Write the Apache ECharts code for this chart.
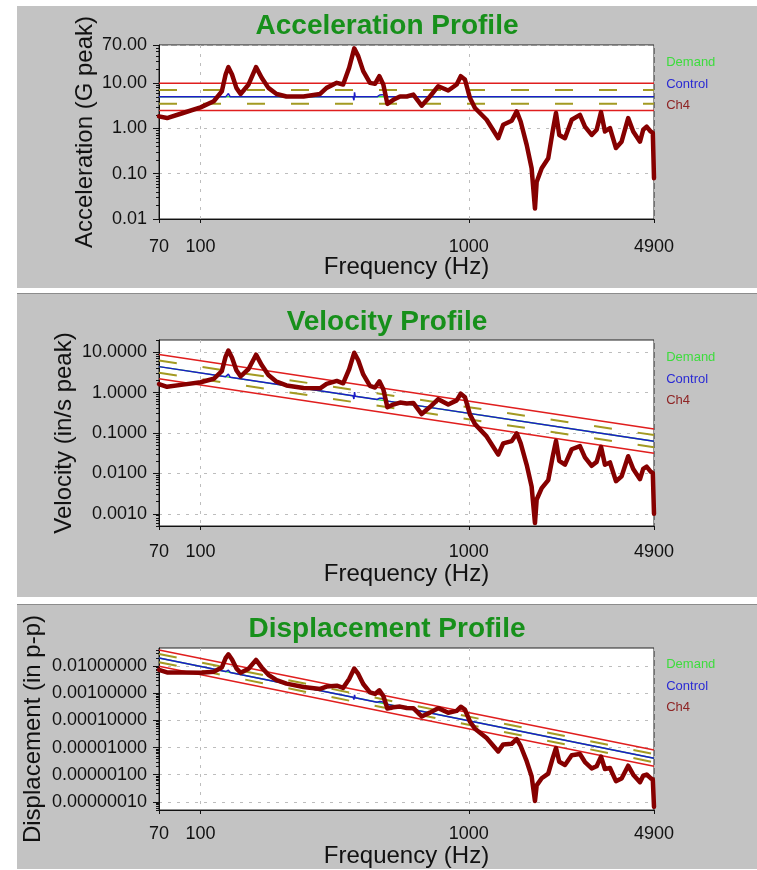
<!DOCTYPE html>
<html><head><meta charset="utf-8">
<script src="https://cdn.jsdelivr.net/npm/echarts@6/dist/echarts.min.js"></script>
<style>
html,body{margin:0;padding:0;background:#fff;width:757px;height:870px;overflow:hidden;}
.panel{position:absolute;left:17px;width:740px;background:#c3c3c3;}
</style></head><body>
<div id="p1" class="panel" style="top:6px;height:282px;"></div>
<div id="p2" class="panel" style="top:293px;height:303px;border-top:1px solid #8c8c8c;"></div>
<div id="p3" class="panel" style="top:604px;height:264px;border-top:1px solid #8c8c8c;"></div>
<script>
// ---------- data ----------
const CH4_FREQ = [70,75,86,100,112,120,124,127,131,136,141,151,161,169,179,192,209,242,279,295,322,340,358,374,387,404,428,447,464,480,497,523,554,587,621,667,716,769,838,901,933,967,1010,1054,1165,1287,1343,1445,1508,1560,1643,1714,1764,1790,1869,1977,2053,2113,2173,2282,2418,2595,2709,2870,2995,3110,3216,3358,3535,3710,3926,4100,4345,4466,4600,4760,4850,4900];
const CH4_ACCEL = [1.85,1.7,2.2,2.93,4.0,6.6,15.6,22.7,15.6,7.9,5.8,9.4,22.7,13.2,7.9,5.8,5.1,5.1,5.8,7.9,10.2,9.4,22,59,39.8,18.5,10.2,9.7,14.3,9.4,3.5,4.3,5.1,5.1,5.6,3.2,5.1,8.6,6.9,9.4,14.3,12.1,4.7,2.84,1.56,0.61,1.21,1.48,2.39,1.43,0.435,0.132,0.017,0.066,0.132,0.22,0.86,2.2,0.72,0.61,1.56,2.0,1.1,0.72,0.94,2.3,0.86,1.02,0.37,0.51,1.7,0.86,0.51,0.94,1.1,0.86,0.8,0.08];
const CH4_VEL = [1.624,1.393,1.572,1.800,2.195,3.380,7.731,10.98,7.318,3.570,2.528,3.825,8.664,4.800,2.712,1.856,1.4995,1.295,1.2774,1.6457,1.9466,1.699,3.776,9.694,6.320,2.814,1.4645,1.3335,1.8938,1.2033,0.4328,0.5052,0.5657,0.5339,0.5541,0.2948,0.4377,0.6872,0.5060,0.6411,0.9418,0.7689,0.2859,0.1656,0.08228,0.02912,0.05536,0.06294,0.09741,0.05633,0.01627,0.004732,0.0005922,0.002266,0.00434,0.006839,0.02574,0.06398,0.02036,0.01643,0.03964,0.04736,0.02495,0.01541,0.01929,0.04544,0.01643,0.01867,0.006432,0.008447,0.02661,0.01289,0.007213,0.01293,0.0147,0.0111,0.01014,0.001003];
const CH4_DISP = [0.007385,0.005912,0.005819,0.00573,0.006238,0.008965,0.019845,0.02752,0.01778,0.008355,0.005706,0.008063,0.01713,0.00904,0.004823,0.003077,0.002284,0.001703,0.001457,0.001776,0.001924,0.001591,0.003357,0.00825,0.005198,0.002217,0.001089,0.0009496,0.001299,0.000798,0.0002772,0.0003075,0.000325,0.0002895,0.000284,0.0001407,0.0001946,0.0002844,0.0001922,0.0002265,0.0003213,0.0002531,0.0000901,0.00005001,0.00002248,0.000007202,0.00001312,0.00001386,0.00002056,0.00001149,0.000003152,8.788e-7,1.0686e-7,4.03e-7,7.391e-7,1.101e-6,3.991e-6,9.638e-6,2.982e-6,2.292e-6,5.218e-6,5.809e-6,2.932e-6,1.709e-6,2.05e-6,4.651e-6,1.626e-6,1.7695e-6,5.792e-7,7.247e-7,2.157e-6,1.0007e-6,5.284e-7,9.216e-7,1.017e-6,7.423e-7,6.654e-7,6.52e-8];

const CTRL_FREQ = [70,124,127,129,370,373,375,377,455,465,475,490,500,4900];
const CTRL_ACCEL = [5,5,5.9,5,5,4.2,6.3,5,5,5.5,5.6,5.3,5,5];
const CTRL_VEL = [4.389,2.478,2.855,2.382,0.8304,0.692,1.032,0.815,0.6753,0.7268,0.7245,0.6647,0.6145,0.0627];
const CTRL_DISP = [0.01996,0.006361,0.007155,0.005877,0.0007144,0.0005905,0.0008763,0.0006881,0.0004724,0.0004975,0.0004855,0.0004318,0.0003912,4.073e-6];

const LIMIT_FREQ = [70,4900];
const ACCEL_DEMAND = [5,5], ACCEL_ABORT_HI = [10,10], ACCEL_ABORT_LO = [2.5,2.5], ACCEL_ALARM_HI = [7.07,7.07], ACCEL_ALARM_LO = [3.54,3.54];
const VEL_DEMAND = [4.389,0.0627], VEL_ABORT_HI = [8.78,0.1254], VEL_ABORT_LO = [2.195,0.03135], VEL_ALARM_HI = [6.21,0.0887], VEL_ALARM_LO = [3.10,0.0443];
const DISP_DEMAND = [0.01996,4.073e-6], DISP_ABORT_HI = [0.03992,8.146e-6], DISP_ABORT_LO = [0.00998,2.036e-6], DISP_ALARM_HI = [0.02823,5.76e-6], DISP_ALARM_LO = [0.01411,2.88e-6];

const X_TICKS = [70,100,1000,4900];
const ACCEL_TICKS = [0.01,0.1,1,10,70];
const VEL_TICKS = [0.001,0.01,0.1,1,10];
const DISP_TICKS = [1e-7,1e-6,1e-5,1e-4,1e-3,1e-2];

// ---------- helpers ----------
const FONT = '"Liberation Sans", Arial, sans-serif';
function minorTicks(e0, e1){const o=[];for(let e=e0;e<e1;e++){for(let m=1;m<10;m++){o.push(+(m*Math.pow(10,e)).toPrecision(3));}}return o;}
const zip=(xs,ys)=>xs.map((x,i)=>[x,ys[i]]);

function build(p){
  const line=(name,ys,xs,style,z,color)=>({type:'line',name,data:zip(xs,ys),symbol:'none',showSymbol:false,silent:true,z:z,color:color||style.color,lineStyle:style});
  const red={color:'#e01e1e',width:1.5};
  const alarm={color:'#a39a22',width:2,type:[18,26]};
  const grid={color:'#bdbdbd',type:[3,6],width:1};
  return {
    animation:false,
    title:{text:p.title,left:'center',top:p.titleTop,padding:0,textStyle:{fontFamily:FONT,fontWeight:'bold',fontSize:28,color:'#17901b'}},
    legend:{data:[{name:'Demand',textStyle:{color:'#3ddc3d'}},{name:'Control',textStyle:{color:'#2a2ad4'}},{name:'Ch4',textStyle:{color:'#8e2424'}}],
      orient:'vertical',left:639,top:p.legendTop,itemWidth:0,itemHeight:13,itemGap:8.5,padding:0,selectedMode:false,
      itemStyle:{opacity:0},lineStyle:{opacity:0},textStyle:{fontFamily:FONT,fontSize:13}},
    grid:{left:142,top:p.gridTop,width:495,height:p.gridHeight,show:true,backgroundColor:'#fff',borderColor:'#222',borderWidth:1,containLabel:false,outerBoundsMode:'none'},
    xAxis:[{type:'log',logBase:10,min:70,max:4900,name:'Frequency (Hz)',nameLocation:'middle',nameGap:p.xNameGap,nameMoveOverlap:false,
      nameTextStyle:{fontFamily:FONT,fontSize:24,color:'#111'},
      axisLine:{show:true,lineStyle:{color:'#111',width:1}},
      axisTick:{show:true,customValues:X_TICKS,length:4,lineStyle:{color:'#111'}},
      axisLabel:{customValues:X_TICKS,formatter:v=>String(Math.round(v)),fontFamily:FONT,fontSize:18,color:'#111',margin:p.xLabelMargin,hideOverlap:false},
      splitLine:{show:true,lineStyle:grid}}],
    yAxis:[{type:'log',logBase:10,min:p.ymin,max:p.ymax,name:p.yName,nameLocation:'middle',nameGap:p.yNameGap,nameMoveOverlap:false,
      nameTextStyle:{fontFamily:FONT,fontSize:24,color:'#111'},
      axisLine:{show:true,lineStyle:{color:'#111',width:1}},
      axisTick:{show:true,customValues:p.ticks,length:6,lineStyle:{color:'#111'}},
      axisLabel:{customValues:p.ticks,formatter:v=>v.toFixed(p.dec),fontFamily:FONT,fontSize:18,color:'#111',margin:12,hideOverlap:false},
      splitLine:{show:true,lineStyle:grid}},
     {type:'log',logBase:10,min:p.ymin,max:p.ymax,position:'left',offset:0,
      axisLine:{show:false},axisTick:{show:true,customValues:p.minor,length:3,lineStyle:{color:'#111'}},
      axisLabel:{show:false},splitLine:{show:false}}],
    series:[
      line('abortHi',p.abortHi,LIMIT_FREQ,red,2),
      line('abortLo',p.abortLo,LIMIT_FREQ,red,2),
      line('alarmHi',p.alarmHi,LIMIT_FREQ,alarm,2),
      line('alarmLo',p.alarmLo,LIMIT_FREQ,alarm,2),
      line('Demand',p.demand,LIMIT_FREQ,{color:'#3ddc3d',width:1.5},3),
      line('Control',p.ctrl,CTRL_FREQ,{color:'#1c1cc8',width:1.5},4,'#2a2ad4'),
      line('Ch4',p.ch4,CH4_FREQ,{color:'#860000',width:4.5,join:'round',cap:'round'},5,'#8e2424')
    ]
  };
}

const panels=[
  {id:'p1',title:'Acceleration Profile',titleTop:6,legendTop:50,gridTop:39,gridHeight:174,xNameGap:36,xLabelMargin:19,
   ymin:0.01,ymax:70,yName:'Acceleration (G peak)',yNameGap:62,ticks:ACCEL_TICKS,minor:minorTicks(-2,2),dec:2,
   abortHi:ACCEL_ABORT_HI,abortLo:ACCEL_ABORT_LO,alarmHi:ACCEL_ALARM_HI,alarmLo:ACCEL_ALARM_LO,demand:ACCEL_DEMAND,ctrl:CTRL_ACCEL,ch4:CH4_ACCEL},
  {id:'p2',title:'Velocity Profile',titleTop:14,legendTop:57,gridTop:46,gridHeight:186,xNameGap:36,xLabelMargin:17,
   ymin:0.0005,ymax:20,yName:'Velocity (in/s peak)',yNameGap:83,ticks:VEL_TICKS,minor:minorTicks(-4,2),dec:4,
   abortHi:VEL_ABORT_HI,abortLo:VEL_ABORT_LO,alarmHi:VEL_ALARM_HI,alarmLo:VEL_ALARM_LO,demand:VEL_DEMAND,ctrl:CTRL_VEL,ch4:CH4_VEL},
  {id:'p3',title:'Displacement Profile',titleTop:10,legendTop:53,gridTop:43,gridHeight:162,xNameGap:34,xLabelMargin:15,
   ymin:5e-8,ymax:0.047,yName:'Displacement (in p-p)',yNameGap:114,ticks:DISP_TICKS,minor:minorTicks(-8,-1),dec:8,
   abortHi:DISP_ABORT_HI,abortLo:DISP_ABORT_LO,alarmHi:DISP_ALARM_HI,alarmLo:DISP_ALARM_LO,demand:DISP_DEMAND,ctrl:CTRL_DISP,ch4:CH4_DISP}
];
panels.forEach(p=>{
  const c=echarts.init(document.getElementById(p.id),null,{renderer:'canvas'});
  c.setOption(build(p));
});
</script>
</body></html>
